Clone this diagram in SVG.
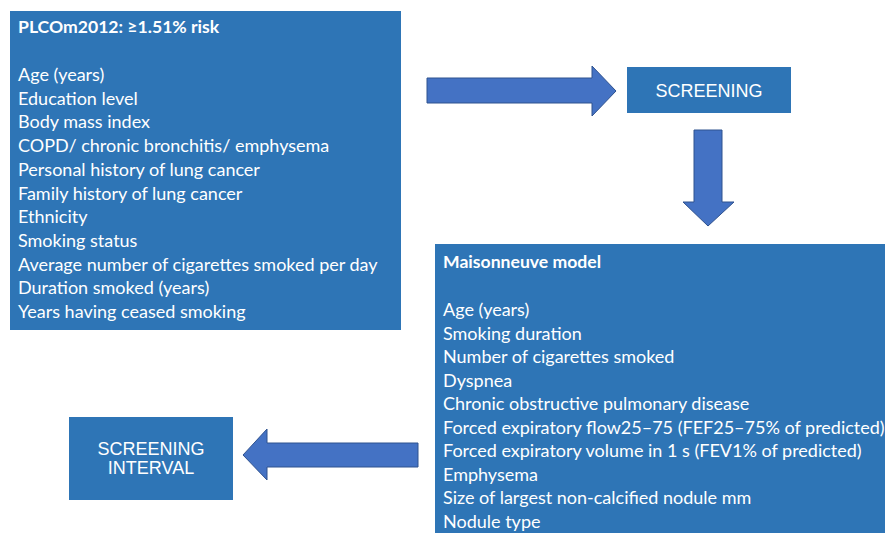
<svg xmlns="http://www.w3.org/2000/svg" width="885" height="533" viewBox="0 0 885 533">
<style>
.box{fill:#2E75B6;}
.arrow{fill:#4472C4;stroke:#2F528F;stroke-width:1;}
.t{font-family:Lato,"Open Sans",sans-serif;font-size:18px;fill:#FFFFFF;}
.b{font-weight:bold;font-size:17.6px;}
.c{font-family:"Liberation Sans",Arial,sans-serif;font-size:18px;fill:#FFFFFF;text-anchor:middle;}
</style>
<rect width="885" height="533" fill="#FFFFFF"/>
<g id="plco">
<rect class="box" x="10" y="11" width="391" height="319"/>
<text class="t b" x="18" y="33">PLCOm2012: ≥1.51% risk</text>
<text class="t" x="18" y="81">Age (years)</text>
<text class="t" x="18" y="104.7">Education level</text>
<text class="t" x="18" y="128.4">Body mass index</text>
<text class="t" x="18" y="152.1">COPD/ chronic bronchitis/ emphysema</text>
<text class="t" x="18" y="175.8">Personal history of lung cancer</text>
<text class="t" x="18" y="199.5">Family history of lung cancer</text>
<text class="t" x="18" y="223.2">Ethnicity</text>
<text class="t" x="18" y="246.9">Smoking status</text>
<text class="t" x="18" y="270.6">Average number of cigarettes smoked per day</text>
<text class="t" x="18" y="294.3">Duration smoked (years)</text>
<text class="t" x="18" y="318">Years having ceased smoking</text>
</g>
<g id="screening">
<rect class="box" x="627" y="67" width="164" height="46"/>
<text class="c" x="709" y="97">SCREENING</text>
</g>
<g id="maisonneuve">
<rect class="box" x="435" y="244" width="450" height="289"/>
<text class="t b" x="443" y="268">Maisonneuve model</text>
<text class="t" x="443" y="316">Age (years)</text>
<text class="t" x="443" y="339.5">Smoking duration</text>
<text class="t" x="443" y="363">Number of cigarettes smoked</text>
<text class="t" x="443" y="386.5">Dyspnea</text>
<text class="t" x="443" y="410">Chronic obstructive pulmonary disease</text>
<text class="t" x="443" y="433.5">Forced expiratory flow25–75 (FEF25–75% of predicted)</text>
<text class="t" x="443" y="457">Forced expiratory volume in 1 s (FEV1% of predicted)</text>
<text class="t" x="443" y="480.5">Emphysema</text>
<text class="t" x="443" y="504">Size of largest non-calcified nodule mm</text>
<text class="t" x="443" y="527.5">Nodule type</text>
</g>
<g id="interval">
<rect class="box" x="69" y="417" width="164" height="83"/>
<text class="c" x="151" y="455">SCREENING</text>
<text class="c" x="151" y="474">INTERVAL</text>
</g>
<g id="connectors">
<polygon class="arrow" points="427,78 592,78 592,66 616,91 592,116 592,103 427,103"/>
<polygon class="arrow" points="694,130 722,130 722,202 734,202 708,226 683,202 694,202"/>
<polygon class="arrow" points="418,443 267,443 267,429 243,455 267,480 267,467 418,467"/>
</g>
</svg>
